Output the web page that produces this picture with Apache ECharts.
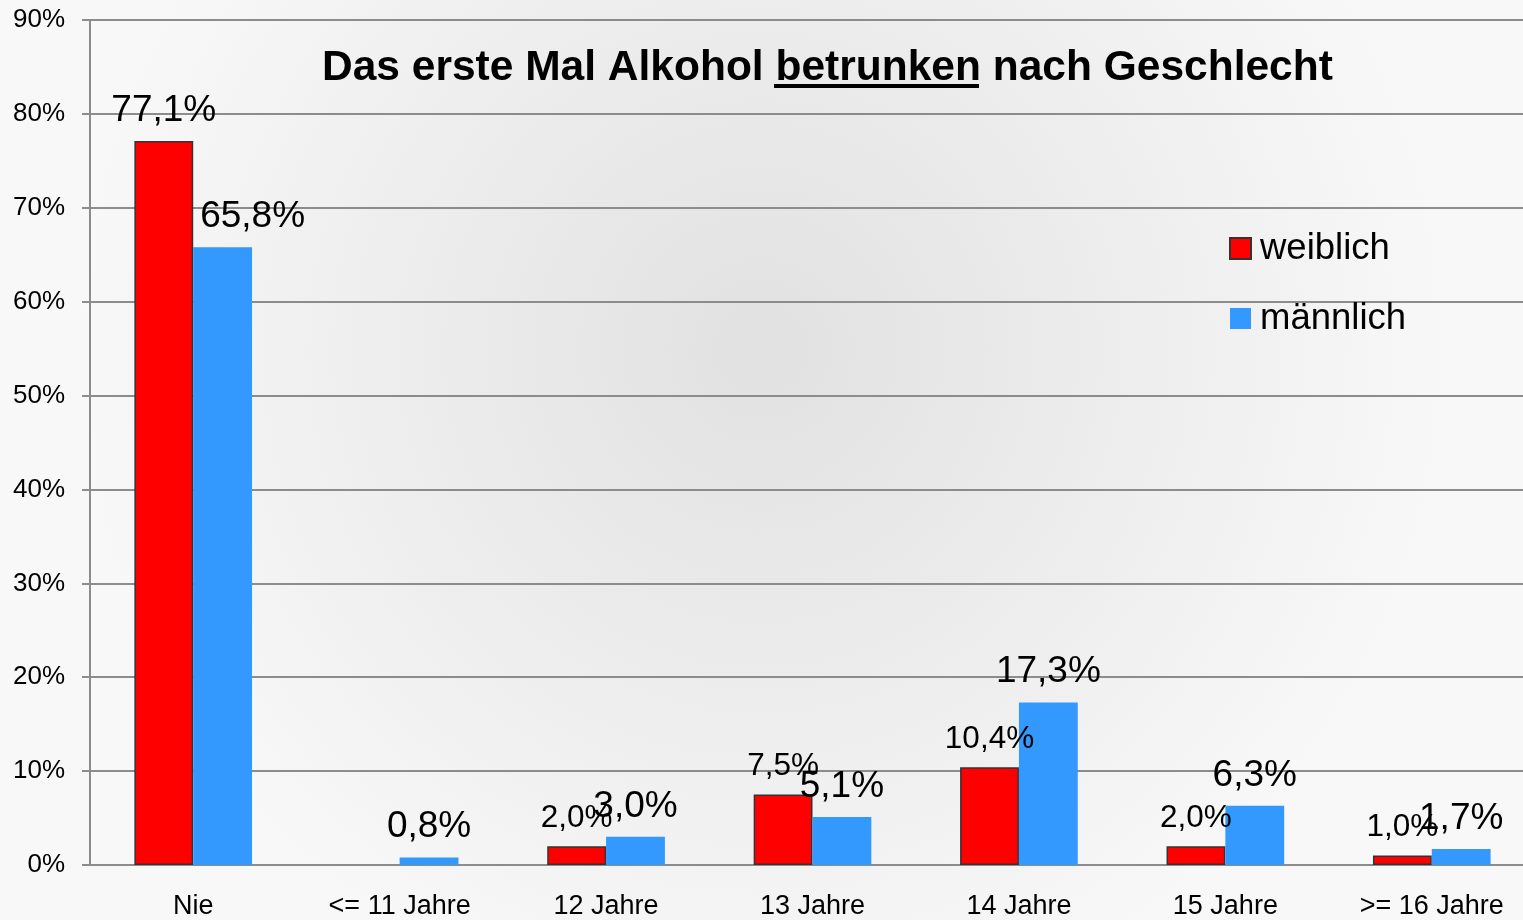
<!DOCTYPE html>
<html>
<head>
<meta charset="utf-8">
<title>Das erste Mal Alkohol betrunken nach Geschlecht</title>
<script src="https://cdn.jsdelivr.net/npm/echarts@6/dist/echarts.min.js"></script>
<style>
  html, body { margin: 0; padding: 0; }
  #chart { width: 1523px; height: 920px; }
</style>
</head>
<body>
<div id="chart"></div>
<script>
  // Daten
  const categories = ['Nie', '<= 11 Jahre', '12 Jahre', '13 Jahre', '14 Jahre', '15 Jahre', '>= 16 Jahre']
  const weiblich = [77.1, null, 2.0, 7.5, 10.4, 2.0, 1.0]
  const maennlich = [65.8, 0.8, 3.0, 5.1, 17.3, 6.3, 1.7]
  const seriesNames = ['weiblich', 'männlich']

  const font = "'Liberation Sans', Arial, sans-serif"
  const gridColor = '#8c8c8c'

  // 1,5% statt 1.5%
  const fmt = v => v.toFixed(1).replace('.', ',') + '%'

  const chart = echarts.init(document.getElementById('chart'))

  // Labels: rot kleiner ausser "Nie", blau bei "Nie" nach rechts verschoben
  const redData = weiblich.map((v, i) => ({
    value: v,
    label: { fontSize: i === 0 ? 37 : 31.5 }
  }))
  const blueData = maennlich.map((v, i) => ({
    value: v,
    label: i === 0 ? { offset: [30, 0] } : {}
  }))

  const option = {
    backgroundColor: {
      type: 'radial',
      x: 0.5, y: 0.38, r: 0.75,
      colorStops: [
        { offset: 0, color: '#e1e1e1' },
        { offset: 1, color: '#f8f8f8' }
      ]
    },
    textStyle: { fontFamily: font },
    title: {
      text: 'Das erste Mal Alkohol betrunken nach Geschlecht',
      left: 322,
      top: 47,
      padding: 0,
      textStyle: { fontSize: 42.5, fontWeight: 'bold', color: '#000', fontFamily: font }
    },
    // Unterstreichung von "betrunken"
    graphic: [
      { type: 'rect', left: 774, top: 84, shape: { width: 205, height: 4 }, style: { fill: '#000' } }
    ],
    legend: {
      orient: 'vertical',
      left: 1229,
      top: 230,
      padding: 0,
      itemWidth: 21,
      itemHeight: 21,
      itemGap: 33,
      icon: 'rect',
      textStyle: { fontSize: 36.5, color: '#000', fontFamily: font, padding: [0, 0, 0, 4] },
      data: seriesNames
    },
    // Plot geht rechts etwas ueber den Rand hinaus
    grid: {
      left: 90,
      width: 1445,
      top: 20,
      bottom: 55,
      outerBoundsMode: 'none',
      containLabel: false
    },
    xAxis: {
      type: 'category',
      data: categories,
      axisLine: { lineStyle: { color: gridColor, width: 2 } },
      axisTick: { length: 8, lineStyle: { color: gridColor, width: 2 } },
      axisLabel: { fontSize: 27, color: '#000', margin: 28, interval: 0 }
    },
    yAxis: {
      type: 'value',
      min: 0,
      max: 90,
      interval: 10,
      axisLine: { show: true, lineStyle: { color: gridColor, width: 2 } },
      axisTick: { show: true, length: 8, lineStyle: { color: gridColor, width: 2 } },
      axisLabel: { fontSize: 26, color: '#000', margin: 25, formatter: '{value}%' },
      splitLine: { lineStyle: { color: gridColor, width: 2 } }
    },
    series: [
      {
        name: seriesNames[0],
        type: 'bar',
        data: redData,
        barGap: '0%',
        barCategoryGap: '43%',
        itemStyle: { color: '#ff0000', borderColor: '#333333', borderWidth: 1.5 },
        label: {
          show: true,
          position: 'top',
          distance: 12,
          color: '#000',
          fontFamily: font,
          formatter: p => fmt(p.value)
        }
      },
      {
        name: seriesNames[1],
        type: 'bar',
        data: blueData,
        barGap: '0%',
        barCategoryGap: '43%',
        itemStyle: { color: '#3399ff' },
        label: {
          show: true,
          position: 'top',
          distance: 12,
          fontSize: 37,
          color: '#000',
          fontFamily: font,
          formatter: p => fmt(p.value)
        }
      }
    ]
  }

  chart.setOption(option)
</script>
</body>
</html>
